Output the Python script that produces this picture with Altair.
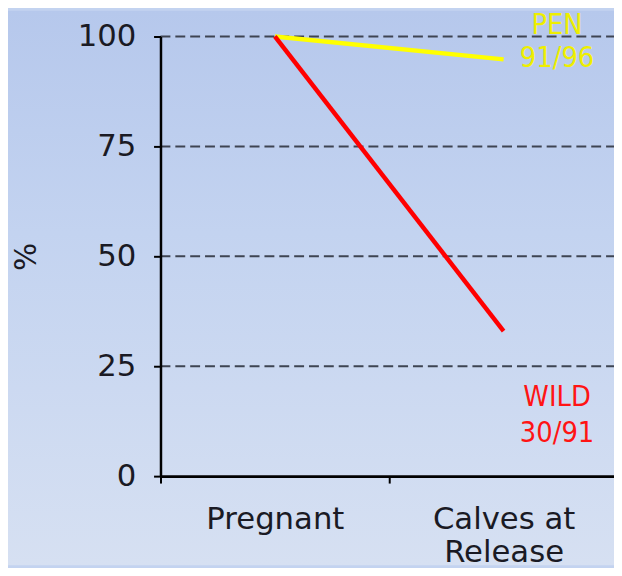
import altair as alt
import pandas as pd

stages = ["Pregnant", "Calves at Release"]
groups = ["PEN", "WILD"]
pen_values = [100, 94.8]
wild_values = [100, 33.0]
fractions = ["91/96", "30/91"]
y_ticks = [0, 25, 50, 75, 100]
line_colors = ["#ffff00", "#ff0000"]
text_colors = ["#eeee00", "#ff1414"]

rows = []
for g, vals in zip(groups, [pen_values, wild_values]):
    for s, v in zip(stages, vals):
        rows.append({"stage": s, "pct": v, "group": g})
df = pd.DataFrame(rows)

labels = pd.DataFrame({
    "group": groups,
    "stage": [stages[-1]] * 2,
    "pct": [pen_values[-1], wild_values[-1]],
    "label": [f"{g}\n{f}" for g, f in zip(groups, fractions)],
})
grid_df = pd.DataFrame({"pct": y_ticks[1:]})
bg_df = pd.DataFrame({"a": [0]})

W, H = 458, 444
PL, PT, PR, PB = 154, 26, 0, 90
XRANGE = 462

MAIN_FONT = "Verdana, DejaVu Sans, sans-serif"
LABEL_FONT = "Tahoma, DejaVu Sans Condensed, Liberation Sans Narrow, Open Sans, sans-serif"

x_scale = alt.Scale(type="band", domain=stages, paddingInner=0, paddingOuter=0, range=[0, XRANGE])
y_scale = alt.Scale(domain=[0, 100], nice=False)

x_axis = alt.Axis(
    title=None, grid=False, tickBand="extent", labelAngle=0,
    domainColor="black", domainWidth=3, tickColor="black", tickWidth=2, tickSize=7,
    labelFont=MAIN_FONT, labelFontSize=31, labelColor="#1a1a24",
    labelPadding=22, labelLineHeight=33, labelOverlap=False,
    labelExpr="datum.label == 'Calves at Release' ? ['Calves at', 'Release'] : datum.label",
    zindex=1,
)
y_axis = alt.Axis(
    title="%", values=y_ticks, grid=False,
    domainColor="black", domainWidth=2.5, tickColor="black", tickWidth=2, tickSize=7,
    labelFont=MAIN_FONT, labelFontSize=31, labelColor="#1a1a24", labelPadding=18,
    titleFont=MAIN_FONT, titleFontSize=30, titleFontWeight="normal", titleColor="#1a1a24",
    titlePadding=36, zindex=1,
)

gradient = {
    "gradient": "linear", "x1": 0, "y1": 0, "x2": 0, "y2": 1,
    "stops": [
        {"offset": 0, "color": "#b6c8ec"},
        {"offset": 0.4, "color": "#c3d3f0"},
        {"offset": 1, "color": "#d6e0f2"},
    ],
}

bg = alt.Chart(bg_df).mark_rect(fill=gradient, stroke=None).encode(
    x=alt.value(-PL), x2=alt.value(W + PR), y=alt.value(-PT), y2=alt.value(H + PB)
)

grid = alt.Chart(grid_df).mark_rule(color="#3e4452", strokeWidth=2, strokeDash=[10, 5]).encode(
    y=alt.Y("pct:Q", scale=y_scale, axis=y_axis), x=alt.value(0), x2=alt.value(W + PR)
)

lines = alt.Chart(df).mark_line(strokeWidth=4.5).encode(
    x=alt.X("stage:N", sort=stages, scale=x_scale, axis=x_axis, bandPosition=0.5),
    y=alt.Y("pct:Q", scale=y_scale, axis=y_axis),
    color=alt.Color("group:N", scale=alt.Scale(domain=groups, range=line_colors), legend=None),
    order=alt.Order("order:Q"),
).transform_calculate(order="datum.stage == 'Pregnant' ? 0 : 1")

def text_layer(group, color, dy, lh):
    return alt.Chart(labels).transform_filter(alt.datum.group == group).mark_text(
        font=LABEL_FONT, fontSize=29, lineHeight=lh, lineBreak="\n",
        align="center", baseline="middle", dx=54, dy=dy, color=color,
    ).encode(
        x=alt.X("stage:N", sort=stages, scale=x_scale, bandPosition=0.5),
        y=alt.Y("pct:Q", scale=y_scale),
        text="label:N",
    )

pen_text = text_layer("PEN", text_colors[0], -35, 34)
wild_text = text_layer("WILD", text_colors[1], 67, 36)

chart = alt.layer(bg, grid, lines, pen_text, wild_text).properties(
    width=W, height=H,
    autosize=alt.AutoSizeParams(type="none"),
    padding={"left": PL, "top": PT, "right": PR, "bottom": PB},
    background="#c3d3f0",
).configure_view(stroke=None)

chart.save("out.html", embed_options={"renderer": "svg", "actions": False})
